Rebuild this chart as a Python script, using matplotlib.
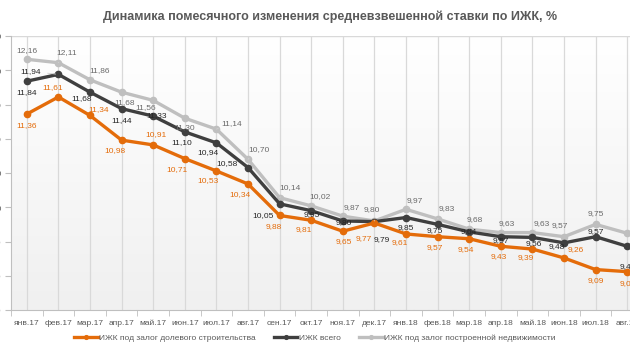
import matplotlib.pyplot as plt
import numpy as np

plt.rcParams['font.family'] = ['Liberation Sans', 'DejaVu Sans']

months = ["янв.17", "фев.17", "мар.17", "апр.17", "май.17", "июн.17", "июл.17",
          "авг.17", "сен.17", "окт.17", "ноя.17", "дек.17", "янв.18", "фев.18",
          "мар.18", "апр.18", "май.18", "июн.18", "июл.18", "авг.18"]

shared_constr = [11.36, 11.61, 11.34, 10.98, 10.91, 10.71, 10.53, 10.34, 9.88, 9.81,
                 9.65, 9.77, 9.61, 9.57, 9.54, 9.43, 9.39, 9.26, 9.09, 9.06]
total = [11.84, 11.94, 11.68, 11.44, 11.33, 11.10, 10.94, 10.58, 10.05, 9.95,
         9.80, 9.79, 9.85, 9.75, 9.64, 9.57, 9.56, 9.48, 9.57, 9.43]
built = [12.16, 12.11, 11.86, 11.68, 11.56, 11.30, 11.14, 10.70, 10.14, 10.02,
         9.87, 9.80, 9.97, 9.83, 9.68, 9.63, 9.63, 9.57, 9.75, 9.62]

yticks = [8.5, 9.0, 9.5, 10.0, 10.5, 11.0, 11.5, 12.0, 12.5]

# label offsets in pixels (dx, dy up) and which ones get a leader line
off_orange = [(0, -11), (-6, 9), (9, 6), (-7, -10), (3, 10), (-8, -11), (-8, -10),
              (-8, -11), (-6, -11), (-7, -9), (1, -10), (-11, -16), (-6, -9), (-3, -11),
              (-3, -11), (-2, -10), (-7, -9), (12, 8), (0, -11), (1, -12)]
off_total = [(0, -11), (-28, 3), (-8, -6), (0, -12), (3, 1), (-3, -11), (-8, -10),
             (-21, 4), (-17, -12), (1, -4), (1, -2), (7, -18), (0, -10), (-3, -6),
             (0, 0), (0, -4), (1, -6), (-7, -4), (0, 5), (1, -20)]
off_built = [(0, 9), (8, 10), (10, 9), (3, -10), (-8, -7), (0, -9), (15, 6),
             (11, 10), (10, 10), (9, 9), (9, 9), (-3, 11), (9, 9), (9, 10),
             (6, 10), (6, 9), (9, 9), (-4, 11), (0, 11), (12, -5)]
lead_total = [1]
lead_built = [1, 2, 6, 7, 8, 9, 10, 11, 12, 13, 14, 15, 16]

c_orange = "#E46C0A"
c_dark = "#3F3F3F"
c_gray = "#BFBFBF"

fig = plt.figure(figsize=(6.3, 3.55), dpi=100)
ax = fig.add_axes([11 / 630, 1 - 310 / 355, 632 / 630, 274 / 355])

x = np.arange(len(months))

# soft background gradient of the plot area
grad = np.linspace(1, 0, 100).reshape(-1, 1)
ax.imshow(grad, extent=[0, 1, 0, 1], transform=ax.transAxes, aspect="auto",
          cmap=plt.matplotlib.colors.LinearSegmentedColormap.from_list("bg", ["#F0F0F0", "#FFFFFF"]),
          zorder=0)

for xi in x:
    ax.axvline(xi, color="#D9D9D9", lw=0.9, zorder=1)
ax.axhline(12.5, color="#D9D9D9", lw=1, zorder=1)

ax.plot(x, built, color=c_gray, lw=2.4, marker="o", ms=4.5, zorder=3,
        label="ИЖК под залог построенной недвижимости")
ax.plot(x, total, color=c_dark, lw=2.4, marker="o", ms=4.5, zorder=4,
        label="ИЖК всего")
ax.plot(x, shared_constr, color=c_orange, lw=2.4, marker="o", ms=4.5, zorder=5,
        label="ИЖК под залог долевого строительства")


def put_labels(vals, offs, color, leads):
    for i, v in enumerate(vals):
        dx, dy = offs[i]
        kw = {}
        if i in leads:
            kw["arrowprops"] = dict(arrowstyle="-", color="#D0D0D0", lw=0.6,
                                    shrinkA=3, shrinkB=2)
        ax.annotate(f"{v:.2f}".replace(".", ","), (x[i], v), xytext=(dx, dy),
                    textcoords="offset pixels", ha="center", va="center",
                    fontsize=6, color=color, zorder=6, annotation_clip=False, **kw)


put_labels(built, off_built, "#6A6A6A", lead_built)
put_labels(total, off_total, "#262626", lead_total)
put_labels(shared_constr, off_orange, c_orange, [])

ax.set_xlim(-0.5, len(months) - 0.5)
ax.set_ylim(8.5, 12.5)
ax.set_xticks(x)
ax.set_xticklabels(months, fontsize=6, color="#595959")
ax.set_xticks(np.arange(-0.5, len(months), 1), minor=True)
ax.tick_params(axis="x", which="major", length=0, pad=7)
ax.tick_params(axis="x", which="minor", length=4, color="#BFBFBF")
ax.set_yticks(yticks)
ax.set_yticklabels([f"{t:.2f}".replace(".", ",") for t in yticks], fontsize=6, color="#595959")
ax.tick_params(axis="y", length=4, color="#BFBFBF", pad=3)

for side in ["top", "right"]:
    ax.spines[side].set_visible(False)
for side in ["left", "bottom"]:
    ax.spines[side].set_color("#BFBFBF")

fig.text(0.524, 1 - 17 / 355, "Динамика помесячного изменения средневзвешенной ставки по ИЖК, %",
         ha="center", va="center", fontsize=9, fontweight="bold", color="#595959")

h, l = ax.get_legend_handles_labels()
fig.legend(h[::-1], l[::-1], loc="center", bbox_to_anchor=(0.5, 1 - 338 / 355), ncol=3,
           frameon=False, fontsize=6, handlelength=2.8, handletextpad=0.2,
           columnspacing=2.2, labelcolor="#595959", markerscale=0.6)

fig.savefig("out.png", dpi=100)
